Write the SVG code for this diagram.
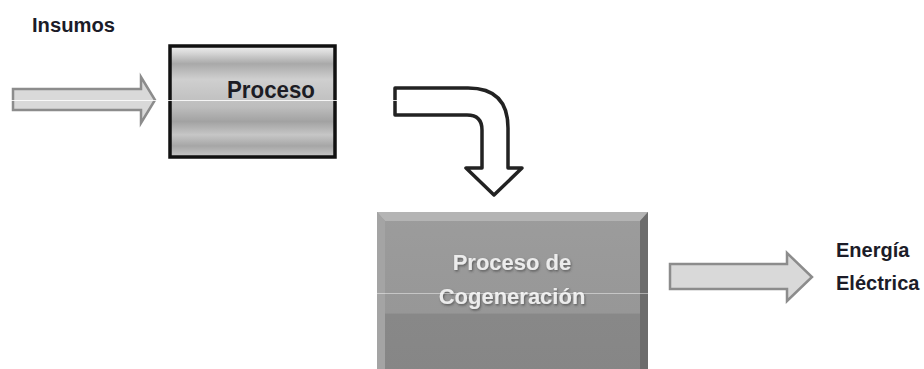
<svg xmlns="http://www.w3.org/2000/svg" width="924" height="369" viewBox="0 0 924 369">
<defs>
<style>
.lbl{font-family:"Liberation Sans",Arial,sans-serif;font-weight:bold;fill:#1c1c28;font-size:20px}
.fat{fill:#d9d9d9;stroke:#8c8c8c;stroke-width:2.5}
.bend{fill:#ffffff;stroke:#222;stroke-width:3.5;stroke-linejoin:round}
.ttl{font-family:"Liberation Sans",Arial,sans-serif;font-weight:bold;font-size:22px;text-anchor:middle}
.scan{stroke:#ffffff;stroke-width:1}
</style>
<linearGradient id="metal" x1="0" y1="0" x2="0" y2="1">
<stop offset="0" stop-color="#f0f0f0"/>
<stop offset="0.06" stop-color="#d8d8d8"/>
<stop offset="0.16" stop-color="#a9a9a9"/>
<stop offset="0.30" stop-color="#cfcfcf"/>
<stop offset="0.45" stop-color="#c4c4c4"/>
<stop offset="0.55" stop-color="#bdbdbd"/>
<stop offset="0.68" stop-color="#a2a2a2"/>
<stop offset="0.80" stop-color="#c6c6c6"/>
<stop offset="0.90" stop-color="#a6a6a6"/>
<stop offset="1" stop-color="#c8c8c8"/>
</linearGradient>
<linearGradient id="cog" x1="0" y1="0" x2="0" y2="1">
<stop offset="0" stop-color="#9c9c9c"/>
<stop offset="0.63" stop-color="#979797"/>
<stop offset="0.64" stop-color="#888888"/>
<stop offset="1" stop-color="#868686"/>
</linearGradient>
<filter id="sh" x="-10%" y="-10%" width="120%" height="130%">
<feDropShadow dx="1" dy="1.5" stdDeviation="1" flood-color="#333" flood-opacity="0.6"/>
</filter>
</defs>

<g id="insumos">
<text class="lbl" x="32" y="32" textLength="83" lengthAdjust="spacingAndGlyphs">Insumos</text>
</g>

<g id="proceso">
<rect x="170" y="46" width="165" height="111" fill="url(#metal)" stroke="#111" stroke-width="3.5"/>
<text x="227" y="98" fill="#1c1c24" font-family="Liberation Sans, Arial, sans-serif" font-weight="bold" font-size="24" textLength="88" lengthAdjust="spacingAndGlyphs">Proceso</text>
</g>

<g id="cogeneracion">
<rect x="377" y="212" width="271" height="160" fill="url(#cog)"/>
<polygon points="377,212 648,212 640,221 385,221" fill="#b4b4b4"/>
<polygon points="377,212 385,221 385,372 377,372" fill="#a4a4a4"/>
<polygon points="648,212 640,221 640,372 648,372" fill="#6c6c6c"/>
<text class="ttl" x="512" y="270" fill="#ececec" filter="url(#sh)">Proceso de</text>
<text class="ttl" x="512" y="304" fill="#ececec" filter="url(#sh)">Cogeneración</text>
</g>

<g id="energia">
<text class="lbl" x="836" y="257">Energía</text>
<text class="lbl" x="836" y="290">Eléctrica</text>
</g>

<g id="connectors">
<polygon class="fat" points="13,89 141,89 141,77 155,100 141,123 141,110 13,110"/>
<path class="bend" d="M395,88 L468,88 Q508,88 508,128 L508,168 L522,168 L494,195 L466,168 L482,168 L482,130 Q482,115 467,115 L395,115 Z"/>
<polygon class="fat" points="670,264 787,264 787,253 812,277 787,301 787,289 670,289"/>
</g>

<line class="scan" x1="0" y1="100.5" x2="400" y2="100.5" opacity="0.85"/>
<line class="scan" x1="372" y1="293.5" x2="655" y2="293.5" opacity="0.45"/>
</svg>
